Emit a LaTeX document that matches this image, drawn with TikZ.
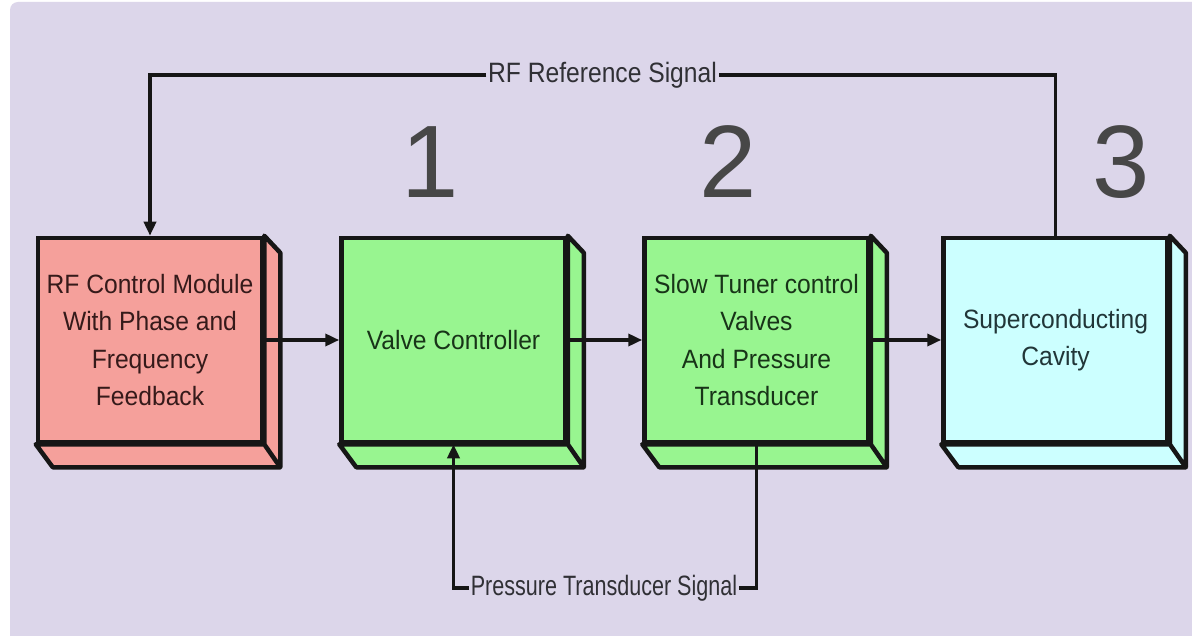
\documentclass[tikz,border=0pt]{standalone}
\usepackage{fontspec}
\setmainfont{Liberation Sans}
\newfontfamily\blockfont[FakeStretch=0.93]{Liberation Sans}
\newfontfamily\reflabelfont[FakeStretch=0.88]{Liberation Sans}
\newfontfamily\ptlabelfont[FakeStretch=0.77]{Liberation Sans}
\usetikzlibrary{arrows.meta}

\definecolor{bgcol}{HTML}{DCD6EA}
\definecolor{redbox}{HTML}{F5A09B}
\definecolor{greenbox}{HTML}{98F590}
\definecolor{cyanbox}{HTML}{CCFFFF}
\definecolor{edgecol}{HTML}{161616}
\definecolor{numgray}{HTML}{474747}
\definecolor{redtext}{HTML}{351A1A}
\definecolor{greentext}{HTML}{183418}
\definecolor{cyantext}{HTML}{213638}
\definecolor{sigtext}{HTML}{303035}

\tikzset{
  blockbox/.style={draw=edgecol, line width=4.5pt, minimum width=224pt,
    minimum height=204pt, inner sep=0pt, align=center,
    font=\blockfont\fontsize{26.5}{37.5}\selectfont},
  wire/.style={draw=edgecol, line width=3.5pt},
  arr/.style={wire, -{Triangle[length=14pt,width=12pt]}},
  siglabel/.style={inner sep=1.5pt, text=sigtext, fill=bgcol},
  stagenum/.style={font=\fontsize{103}{103}\selectfont, text=numgray, inner sep=0pt},
}

% side and bottom faces that give each block its depth
\newcommand\depthfaces[2]{%
  \draw[draw=edgecol, line width=4.5pt, line join=round, fill=#2]
    (#1.north east) -- ++(16,17) -- ([shift={(16,23)}]#1.south east)
      -- (#1.south east) -- cycle
    (#1.south west) -- ++(17,23) -- ([shift={(16,23)}]#1.south east)
      -- (#1.south east) -- cycle;}

\begin{document}
\begin{tikzpicture}[x=1pt, y=-1pt]
  \useasboundingbox (0,0) rectangle (1192,636);
  \fill[white] (0,0) rectangle (1192,636);
  \fill[bgcol, rounded corners=8pt] (10,2) rectangle (1215,660);

  % stage numbers
  \node[stagenum] (n1) at (430,162) {1};
  \node[stagenum] (n2) at (728,162) {2};
  \node[stagenum] (n3) at (1121,162) {3};

  % blocks
  \node[blockbox, fill=redbox, text=redtext] (rf) at (150,340)
    {RF Control Module\\With Phase and\\Frequency\\Feedback};
  \node[blockbox, fill=greenbox, text=greentext] (valve) at (453.5,340)
    {Valve Controller};
  \node[blockbox, fill=greenbox, text=greentext] (tuner) at (756.5,340)
    {Slow Tuner control\\Valves\\And Pressure\\Transducer};
  \node[blockbox, fill=cyanbox, text=cyantext] (cavity) at (1055.5,340)
    {Superconducting\\Cavity};
  \depthfaces{rf}{redbox}
  \depthfaces{valve}{greenbox}
  \depthfaces{tuner}{greenbox}
  \depthfaces{cavity}{cyanbox}

  % forward chain
  \draw[arr] (rf.east) -- (valve.west);
  \draw[arr] (valve.east) -- (tuner.west);
  \draw[arr] (tuner.east) -- (cavity.west);

  % RF reference feedback over the top
  \node[siglabel, font=\reflabelfont\fontsize{28}{28}\selectfont] (rfref)
    at (602.5,75) {RF Reference Signal};
  \draw[wire] (cavity.north) |- (rfref.east);
  \draw[arr] (rfref.west) -| (rf.north);

  % pressure transducer feedback underneath
  \node[siglabel, font=\ptlabelfont\fontsize{28}{28}\selectfont] (ptsig)
    at (604,588) {Pressure Transducer Signal};
  \draw[wire] (tuner.south) |- (ptsig.east);
  \draw[arr] (ptsig.west) -| (valve.south);
\end{tikzpicture}
\end{document}
